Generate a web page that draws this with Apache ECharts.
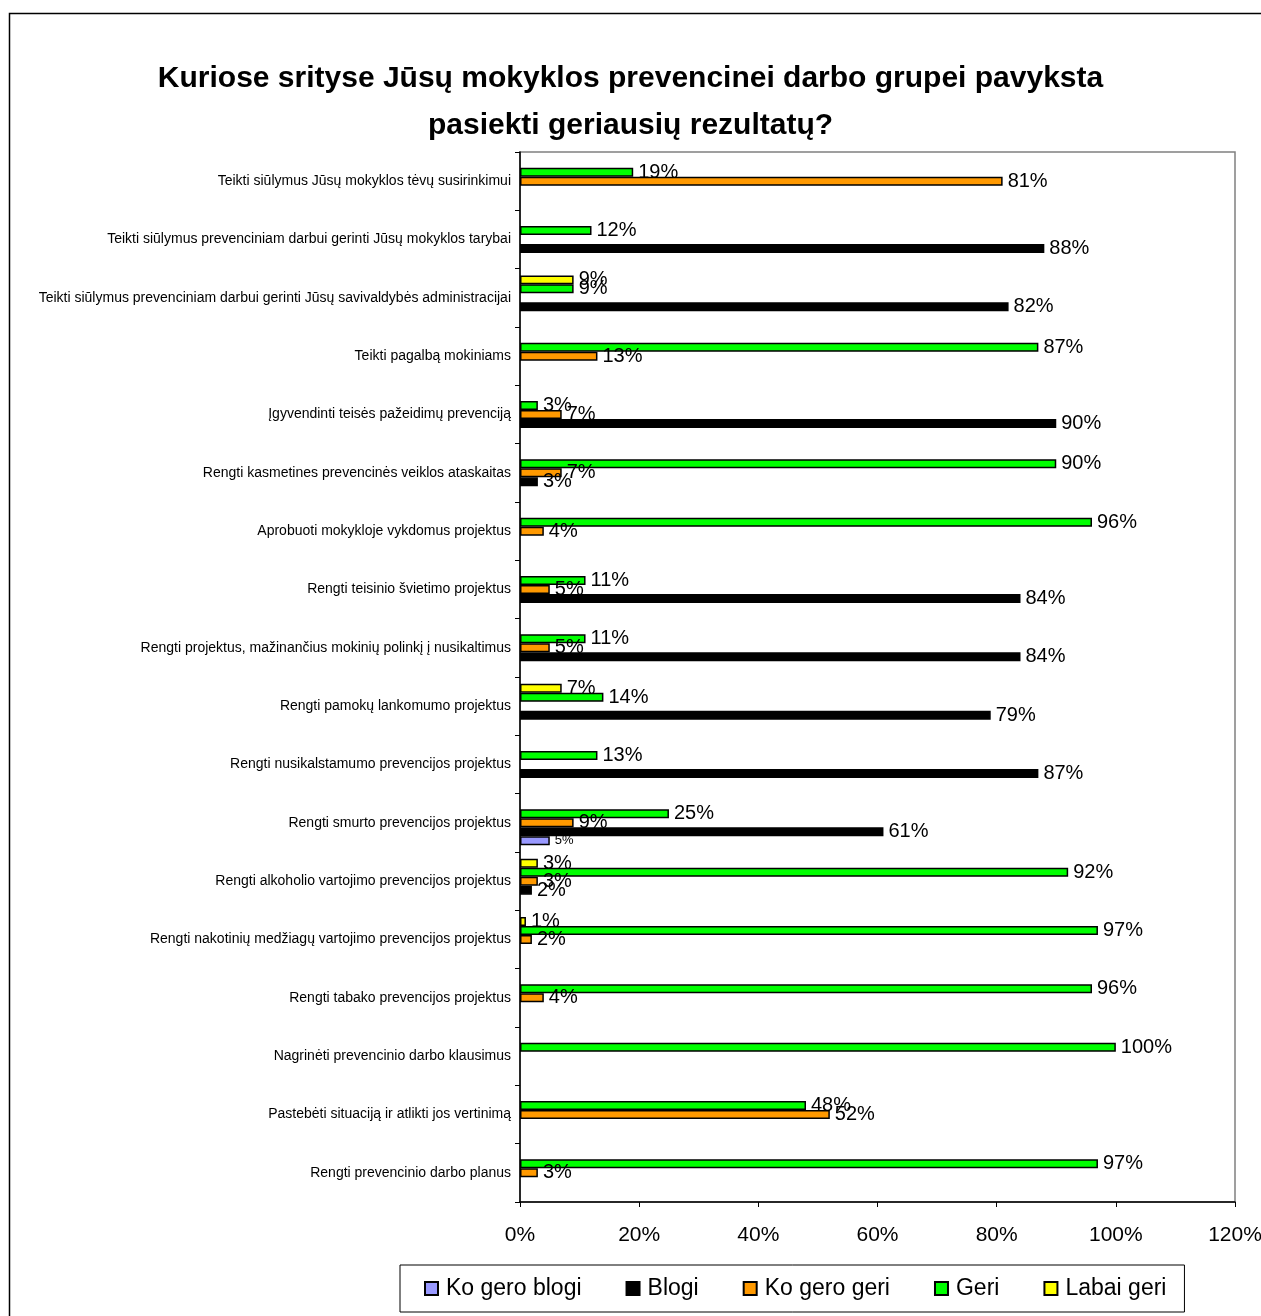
<!DOCTYPE html>
<html>
<head>
<meta charset="utf-8">
<script src="https://cdn.jsdelivr.net/npm/echarts@6/dist/echarts.min.js"></script>
<style>
html,body{margin:0;padding:0;background:#fff;overflow:hidden;}
#chart{width:1261px;height:1316px;}
</style>
</head>
<body>
<div id="chart"></div>
<script>
const categories = [
  'Teikti siūlymus Jūsų mokyklos tėvų susirinkimui',
  'Teikti siūlymus prevenciniam darbui gerinti Jūsų mokyklos tarybai',
  'Teikti siūlymus prevenciniam darbui gerinti Jūsų savivaldybės administracijai',
  'Teikti pagalbą mokiniams',
  'Įgyvendinti teisės pažeidimų prevenciją',
  'Rengti kasmetines prevencinės veiklos ataskaitas',
  'Aprobuoti mokykloje vykdomus projektus',
  'Rengti teisinio švietimo projektus',
  'Rengti projektus, mažinančius mokinių polinkį į nusikaltimus',
  'Rengti pamokų lankomumo projektus',
  'Rengti nusikalstamumo prevencijos projektus',
  'Rengti smurto prevencijos projektus',
  'Rengti alkoholio vartojimo prevencijos projektus',
  'Rengti nakotinių medžiagų vartojimo prevencijos projektus',
  'Rengti tabako prevencijos projektus',
  'Nagrinėti prevencinio darbo klausimus',
  'Pastebėti situaciją ir atlikti jos vertinimą',
  'Rengti prevencinio darbo planus'
];
const koGeroBlogi = [null,null,null,null,null,null,null,null,null,null,null,5,null,null,null,null,null,null];
const blogi       = [null,88,82,null,90,3,null,84,84,79,87,61,2,null,null,null,null,null];
const koGeroGeri  = [81,null,null,13,7,7,4,5,5,null,null,9,3,2,4,null,52,3];
const geri        = [19,12,9,87,3,90,96,11,11,14,13,25,92,97,96,100,48,97];
const labaiGeri   = [null,null,9,null,null,null,null,null,null,7,null,null,3,1,null,null,null,null];
const xTicks = [0,20,40,60,80,100,120];

const FONT = '"Liberation Sans",Arial,sans-serif';
const seriesDefs = [
  {name:'Ko gero blogi', data:koGeroBlogi, color:'#9999FF', labelSize:13},
  {name:'Blogi', data:blogi, color:'#000000', labelSize:20},
  {name:'Ko gero geri', data:koGeroGeri, color:'#FF9900', labelSize:20},
  {name:'Geri', data:geri, color:'#00FF00', labelSize:20},
  {name:'Labai geri', data:labaiGeri, color:'#FFFF00', labelSize:20}
];
// ECharts places horizontal bar slots top-down in series order; reference has last series on top
const drawOrder = seriesDefs.slice().reverse();

const chart = echarts.init(document.getElementById('chart'), null, {renderer:'canvas'});
chart.setOption({
  backgroundColor:'#fff',
  animation:false,
  title:{
    text:'Kuriose srityse Jūsų mokyklos prevencinei darbo grupei pavyksta\npasiekti geriausių rezultatų?',
    left:'center', top:50,
    textStyle:{fontFamily:FONT, fontWeight:'bold', fontSize:30, lineHeight:47, color:'#000'}
  },
  graphic:[{type:'rect', shape:{x:9.5,y:13.5,width:1400,height:1400}, style:{fill:null, stroke:'#000', lineWidth:1.5}, silent:true}],
  legend:{
    data: seriesDefs.map(s=>s.name),
    left:400, top:1265,
    orient:'horizontal',
    borderColor:'#000', borderWidth:1,
    padding:[12,18,12,24],
    itemGap:44,
    itemWidth:13, itemHeight:13,
    icon:'rect',
    textStyle:{fontFamily:FONT, fontSize:23, color:'#000', padding:[0,0,0,3]}
  },
  grid:{left:520, width:715, top:152, height:1050, show:true, borderColor:'#808080', borderWidth:1.5,
    containLabel:false, outerBoundsMode:'none'},
  xAxis:{
    type:'value', min:xTicks[0], max:xTicks[xTicks.length-1], interval:20,
    axisLine:{show:true, lineStyle:{color:'#000', width:1.5}},
    axisTick:{show:true, length:5, lineStyle:{color:'#000'}},
    splitLine:{show:false},
    axisLabel:{formatter:'{value}%', fontFamily:FONT, fontSize:21, color:'#000', margin:23}
  },
  yAxis:{
    type:'category', data:categories, inverse:true,
    axisLine:{show:true, lineStyle:{color:'#000', width:1.5}},
    axisTick:{show:true, length:5, lineStyle:{color:'#000'}},
    axisLabel:{fontFamily:FONT, fontSize:14, color:'#000', margin:9}
  },
  series: drawOrder.map(s=>({
    name:s.name, type:'bar', data:s.data,
    barGap:'0%', barCategoryGap:'23%',
    itemStyle:{color:s.color, borderColor:'#000', borderWidth:1.5},
    label:{show:true, position:'right', distance:5, formatter:p=>p.value==null?'':p.value+'%',
      fontFamily:FONT, fontSize:s.labelSize, color:'#000'}
  }))
});
</script>
</body>
</html>
